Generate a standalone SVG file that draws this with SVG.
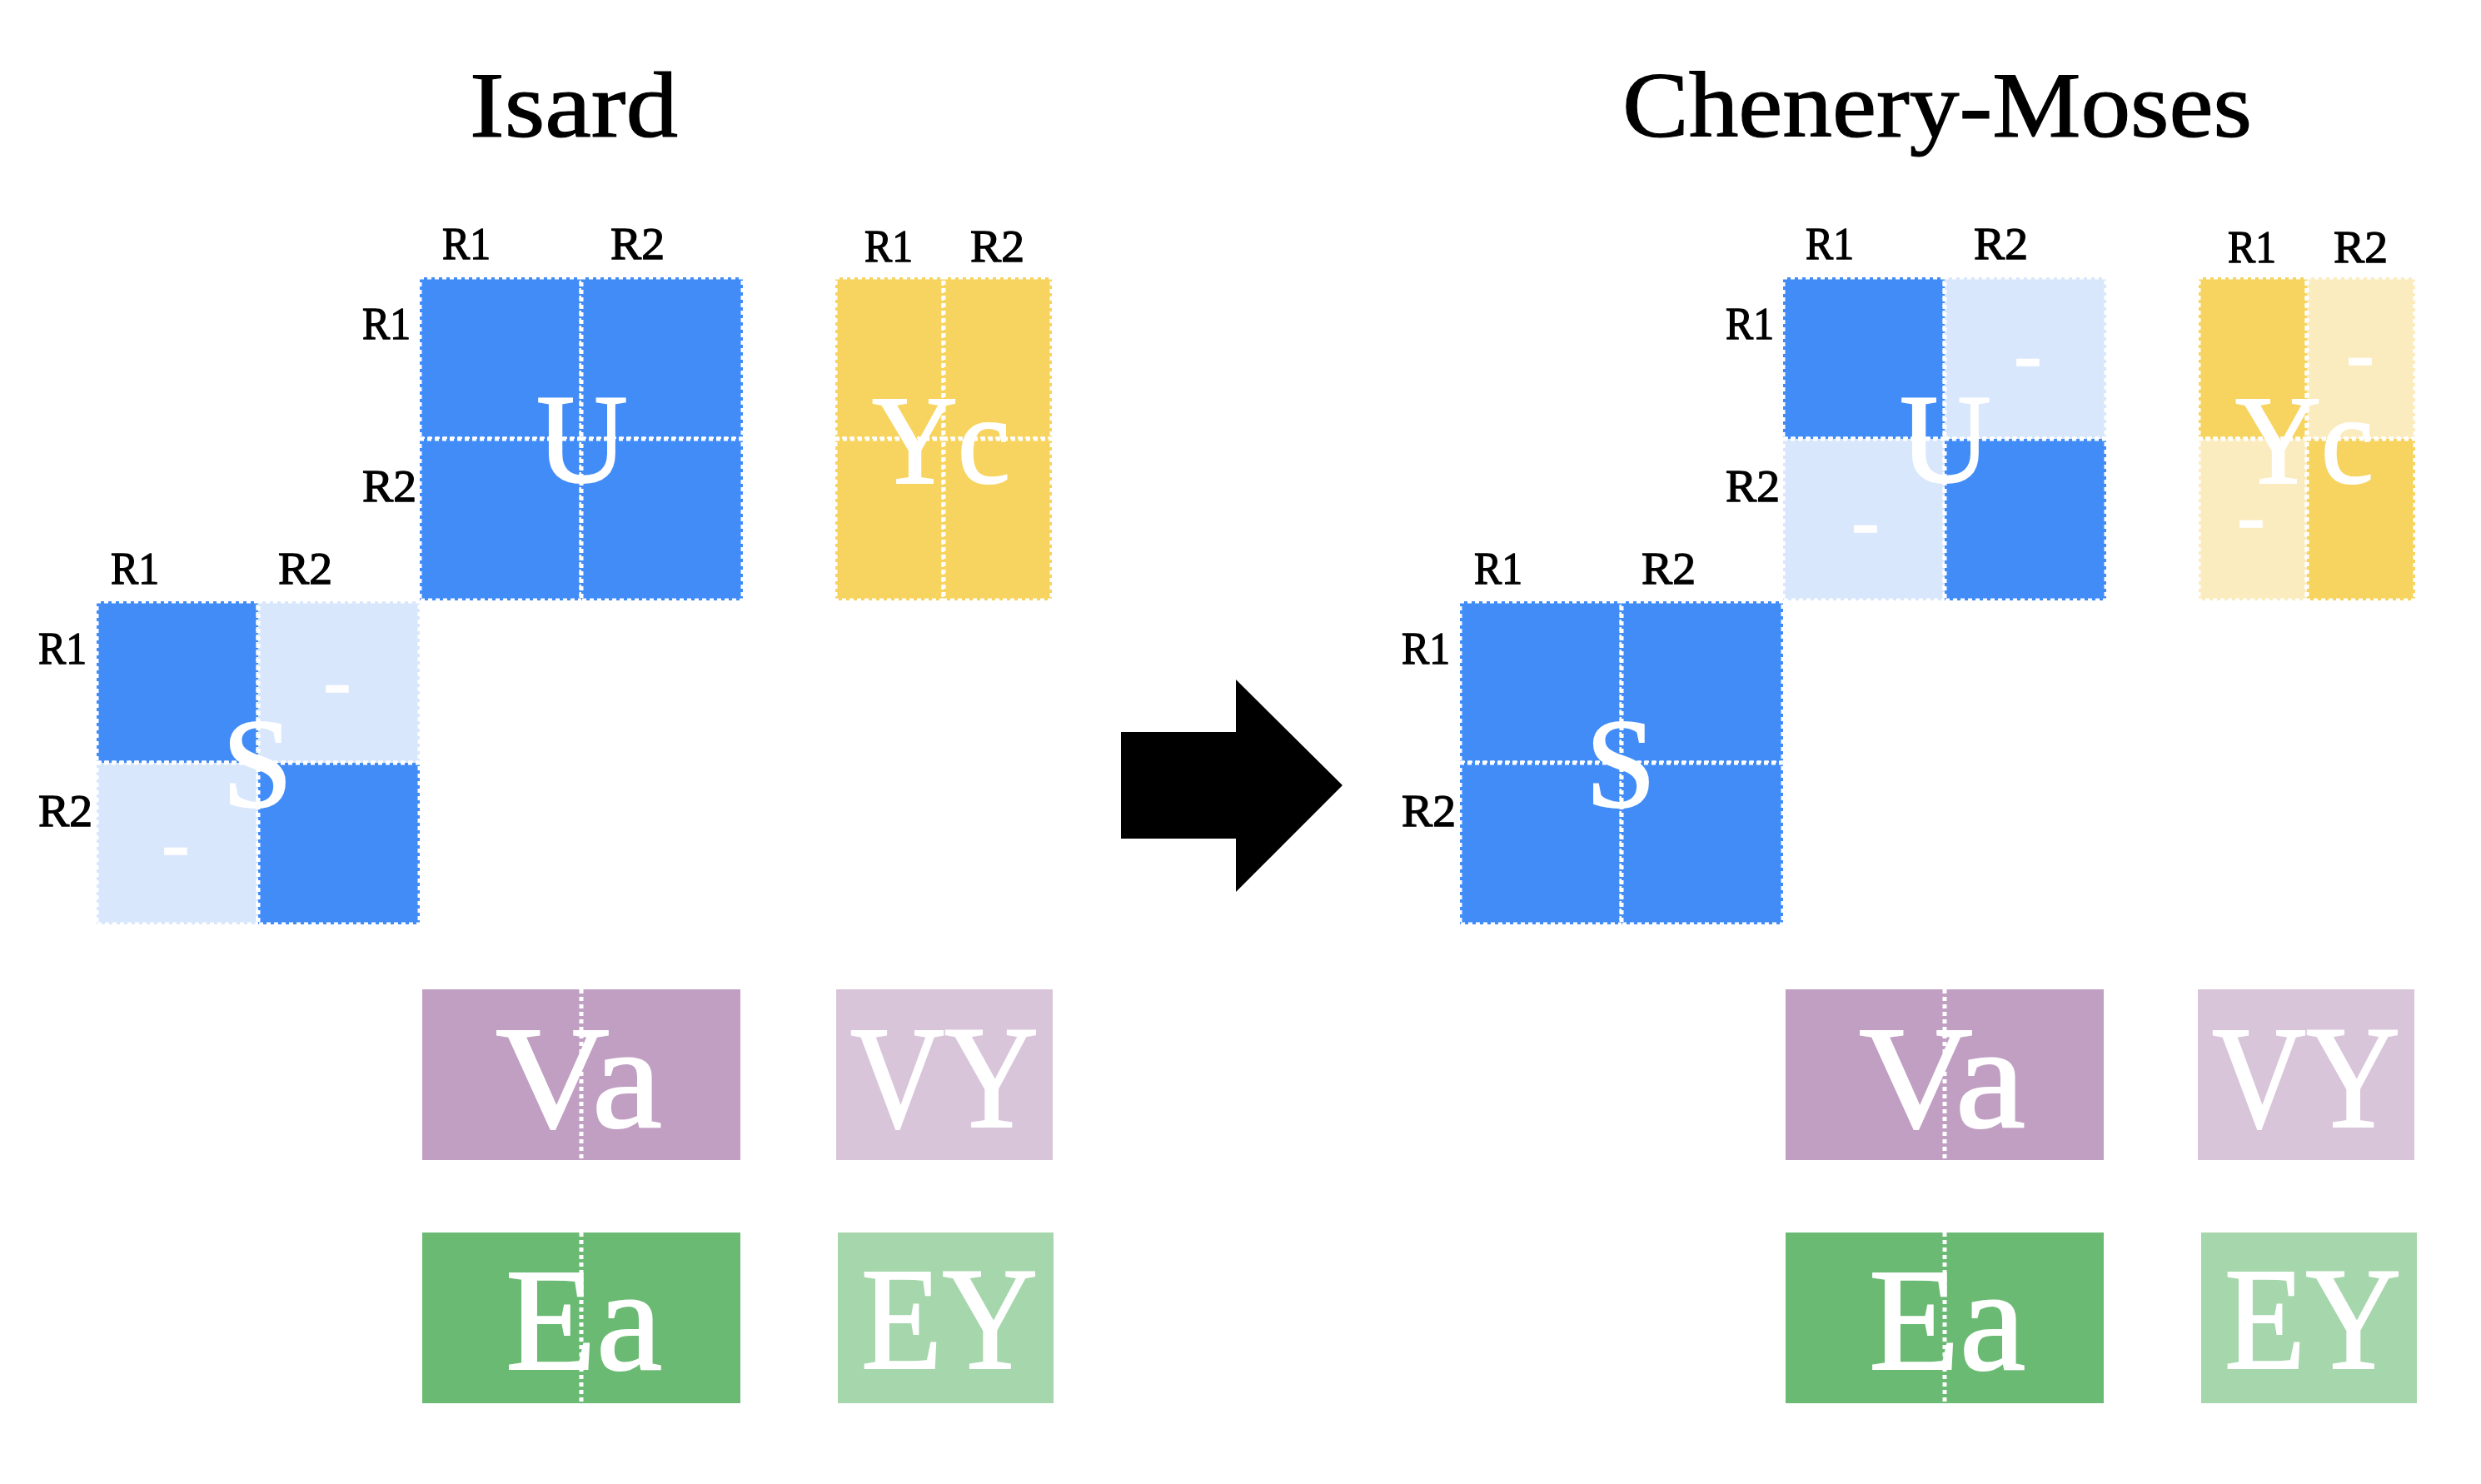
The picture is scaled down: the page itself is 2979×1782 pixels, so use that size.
<svg xmlns="http://www.w3.org/2000/svg" width="2979" height="1782" viewBox="0 0 2979 1782">
<style>
  text { font-family: "Liberation Serif", "Times New Roman", serif; }
  .title { font-size: 113px; fill: #000; stroke: #000; stroke-width: 1.2; text-anchor: middle; }
  .lbl { font-size: 55px; fill: #000; stroke: #000; stroke-width: 1.3; }
  .big { font-size: 152px; fill: #fff; stroke: #fff; stroke-width: 2; text-anchor: middle; }
  .big2 { font-size: 175px; fill: #fff; stroke: #fff; stroke-width: 2; text-anchor: middle; }
  .dash { font-size: 100px; fill: #fff; stroke: #fff; stroke-width: 1.5; text-anchor: middle; }
  .cell { stroke: #fff; stroke-width: 5; stroke-dasharray: 5 4; }
  .bd { fill: #428cf8; }
  .bl { fill: #d9e7fd; }
  .yd { fill: #f7d45f; }
  .yl { fill: #fbecc0; }
  .pd { fill: #c09fc3; }
  .pl { fill: #d8c5da; }
  .gd { fill: #6aba73; }
  .gl { fill: #a6d6ab; }
  .mid { stroke: #fff; stroke-width: 5; stroke-dasharray: 5 4; fill: none; }
</style>

<g id="title-isard"><text class="title" x="689" y="164" textLength="250" lengthAdjust="spacingAndGlyphs">Isard</text></g>
<g id="title-chenery-moses"><text class="title" x="2326" y="164" textLength="756" lengthAdjust="spacingAndGlyphs">Chenery-Moses</text></g>

<!-- ============ LEFT: Isard ============ -->
<g id="isard-U">
  <rect class="cell bd" x="504" y="333" width="194" height="194"/>
  <rect class="cell bd" x="698" y="333" width="194" height="194"/>
  <rect class="cell bd" x="504" y="527" width="194" height="194"/>
  <rect class="cell bd" x="698" y="527" width="194" height="194"/>
  <text class="lbl" x="531" y="311" textLength="58" lengthAdjust="spacingAndGlyphs">R1</text>
  <text class="lbl" x="733" y="311" textLength="65" lengthAdjust="spacingAndGlyphs">R2</text>
  <text class="lbl" x="435" y="407" textLength="58" lengthAdjust="spacingAndGlyphs">R1</text>
  <text class="lbl" x="435" y="602" textLength="65" lengthAdjust="spacingAndGlyphs">R2</text>
  <text class="big" x="699" y="579">U</text>
</g>

<g id="isard-Yc">
  <rect class="cell yd" x="1003" y="333" width="130" height="194"/>
  <rect class="cell yd" x="1133" y="333" width="130" height="194"/>
  <rect class="cell yd" x="1003" y="527" width="130" height="194"/>
  <rect class="cell yd" x="1133" y="527" width="130" height="194"/>
  <text class="lbl" x="1038" y="314" textLength="58" lengthAdjust="spacingAndGlyphs">R1</text>
  <text class="lbl" x="1165" y="314" textLength="65" lengthAdjust="spacingAndGlyphs">R2</text>
  <text class="big" x="1130" y="580" textLength="166" lengthAdjust="spacingAndGlyphs">Yc</text>
</g>

<g id="isard-S">
  <rect class="cell bd" x="116" y="722" width="194" height="194"/>
  <rect class="cell bl" x="310" y="722" width="194" height="194"/>
  <rect class="cell bl" x="116" y="916" width="194" height="194"/>
  <rect class="cell bd" x="310" y="916" width="194" height="194"/>
  <text class="lbl" x="133" y="701" textLength="58" lengthAdjust="spacingAndGlyphs">R1</text>
  <text class="lbl" x="334" y="701" textLength="65" lengthAdjust="spacingAndGlyphs">R2</text>
  <text class="lbl" x="46" y="797" textLength="58" lengthAdjust="spacingAndGlyphs">R1</text>
  <text class="lbl" x="46" y="992" textLength="65" lengthAdjust="spacingAndGlyphs">R2</text>
  <text class="dash" x="405" y="851">-</text>
  <text class="dash" x="211" y="1046">-</text>
  <text class="big" x="309" y="969">S</text>
</g>

<g id="isard-Va">
  <rect class="pd" x="507" y="1188" width="382" height="205"/>
  <line class="mid" x1="698" y1="1188" x2="698" y2="1393"/>
  <text class="big2" x="695" y="1353" textLength="200" lengthAdjust="spacingAndGlyphs">Va</text>
</g>
<g id="isard-VY">
  <rect class="pl" x="1004" y="1188" width="260" height="205"/>
  <text class="big2" x="1134" y="1353" textLength="226" lengthAdjust="spacingAndGlyphs">VY</text>
</g>
<g id="isard-Ea">
  <rect class="gd" x="507" y="1480" width="382" height="205"/>
  <line class="mid" x1="698" y1="1480" x2="698" y2="1685"/>
  <text class="big2" x="701" y="1644" textLength="188" lengthAdjust="spacingAndGlyphs">Ea</text>
</g>
<g id="isard-EY">
  <rect class="gl" x="1006" y="1480" width="259" height="205"/>
  <text class="big2" x="1140" y="1643" textLength="212" lengthAdjust="spacingAndGlyphs">EY</text>
</g>

<!-- ============ RIGHT: Chenery-Moses ============ -->
<g id="cm-U">
  <rect class="cell bd" x="2141" y="333" width="194" height="194"/>
  <rect class="cell bl" x="2335" y="333" width="194" height="194"/>
  <rect class="cell bl" x="2141" y="527" width="194" height="194"/>
  <rect class="cell bd" x="2335" y="527" width="194" height="194"/>
  <text class="lbl" x="2168" y="311" textLength="58" lengthAdjust="spacingAndGlyphs">R1</text>
  <text class="lbl" x="2370" y="311" textLength="65" lengthAdjust="spacingAndGlyphs">R2</text>
  <text class="lbl" x="2072" y="407" textLength="58" lengthAdjust="spacingAndGlyphs">R1</text>
  <text class="lbl" x="2072" y="602" textLength="65" lengthAdjust="spacingAndGlyphs">R2</text>
  <text class="dash" x="2435" y="459">-</text>
  <text class="dash" x="2240" y="659">-</text>
  <text class="big" x="2336" y="579">U</text>
</g>

<g id="cm-Yc">
  <rect class="cell yd" x="2640" y="333" width="130" height="194"/>
  <rect class="cell yl" x="2770" y="333" width="130" height="194"/>
  <rect class="cell yl" x="2640" y="527" width="130" height="194"/>
  <rect class="cell yd" x="2770" y="527" width="130" height="194"/>
  <text class="lbl" x="2675" y="315" textLength="58" lengthAdjust="spacingAndGlyphs">R1</text>
  <text class="lbl" x="2802" y="315" textLength="65" lengthAdjust="spacingAndGlyphs">R2</text>
  <text class="dash" x="2834" y="458">-</text>
  <text class="dash" x="2703" y="653">-</text>
  <text class="big" x="2767" y="580" textLength="166" lengthAdjust="spacingAndGlyphs">Yc</text>
</g>

<g id="cm-S">
  <rect class="cell bd" x="1753" y="722" width="194" height="194"/>
  <rect class="cell bd" x="1947" y="722" width="194" height="194"/>
  <rect class="cell bd" x="1753" y="916" width="194" height="194"/>
  <rect class="cell bd" x="1947" y="916" width="194" height="194"/>
  <text class="lbl" x="1770" y="701" textLength="58" lengthAdjust="spacingAndGlyphs">R1</text>
  <text class="lbl" x="1971" y="701" textLength="65" lengthAdjust="spacingAndGlyphs">R2</text>
  <text class="lbl" x="1683" y="797" textLength="58" lengthAdjust="spacingAndGlyphs">R1</text>
  <text class="lbl" x="1683" y="992" textLength="65" lengthAdjust="spacingAndGlyphs">R2</text>
  <text class="big" x="1946" y="969">S</text>
</g>

<g id="cm-Va">
  <rect class="pd" x="2144" y="1188" width="382" height="205"/>
  <line class="mid" x1="2335" y1="1188" x2="2335" y2="1393"/>
  <text class="big2" x="2332" y="1353" textLength="200" lengthAdjust="spacingAndGlyphs">Va</text>
</g>
<g id="cm-VY">
  <rect class="pl" x="2639" y="1188" width="260" height="205"/>
  <text class="big2" x="2769" y="1353" textLength="226" lengthAdjust="spacingAndGlyphs">VY</text>
</g>
<g id="cm-Ea">
  <rect class="gd" x="2144" y="1480" width="382" height="205"/>
  <line class="mid" x1="2335" y1="1480" x2="2335" y2="1685"/>
  <text class="big2" x="2338" y="1644" textLength="188" lengthAdjust="spacingAndGlyphs">Ea</text>
</g>
<g id="cm-EY">
  <rect class="gl" x="2643" y="1480" width="259" height="205"/>
  <text class="big2" x="2777" y="1643" textLength="212" lengthAdjust="spacingAndGlyphs">EY</text>
</g>

<g id="connectors">
  <polygon points="1346,879 1484,879 1484,816 1612,943 1484,1071 1484,1007 1346,1007" fill="#000"/>
</g>
</svg>
